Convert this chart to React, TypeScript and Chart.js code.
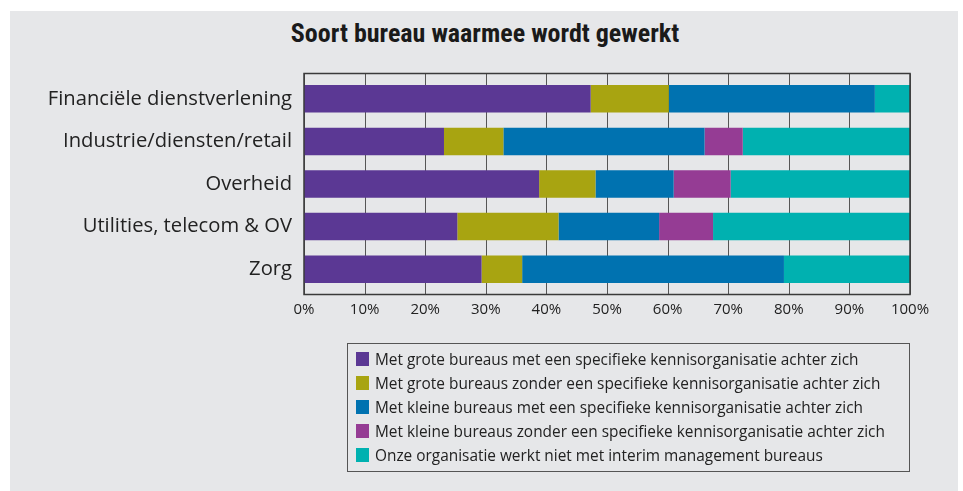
import React, { useEffect, useRef } from "react";
import { Chart, registerables } from "chart.js";

Chart.register(...registerables);

const categories = [
  "Financiële dienstverlening",
  "Industrie/diensten/retail",
  "Overheid",
  "Utilities, telecom & OV",
  "Zorg",
];

const seriesLabels = [
  "Met grote bureaus met een specifieke kennisorganisatie achter zich",
  "Met grote bureaus zonder een specifieke kennisorganisatie achter zich",
  "Met kleine bureaus met een specifieke kennisorganisatie achter zich",
  "Met kleine bureaus zonder een specifieke kennisorganisatie achter zich",
  "Onze organisatie werkt niet met interim management bureaus",
];

const groteMet = [47.3, 23.1, 38.8, 25.3, 29.3];
const groteZonder = [12.9, 9.8, 9.3, 16.7, 6.7];
const kleineMet = [34.0, 33.2, 12.9, 16.6, 43.2];
const kleineZonder = [0, 6.3, 9.4, 8.9, 0];
const nietMet = [5.8, 27.6, 29.6, 32.5, 20.8];

const xTicks = [0, 10, 20, 30, 40, 50, 60, 70, 80, 90, 100];

const colors = ["#5B3894", "#A8A411", "#0072B0", "#953C94", "#00B1B0"];

const FONT = "'Open Sans', Roboto, sans-serif";
const EXT = 4;

export default function App() {
  const ref = useRef<HTMLCanvasElement>(null);

  useEffect(() => {
    if (!ref.current) return;
    const values = [groteMet, groteZonder, kleineMet, kleineZonder, nietMet];
    const frame = {
      id: "frame",
      beforeDatasetsDraw(chart: any) {
        const { ctx, chartArea } = chart;
        const xs = chart.scales.x;
        ctx.save();
        ctx.strokeStyle = "#555";
        ctx.lineWidth = 1;
        xTicks.forEach((v) => {
          const px = Math.round(xs.getPixelForValue(v)) + 0.5;
          ctx.beginPath();
          ctx.moveTo(px, chartArea.top - EXT);
          ctx.lineTo(px, chartArea.bottom + EXT);
          ctx.stroke();
        });
        ctx.restore();
      },
      afterDatasetsDraw(chart: any) {
        const { ctx, chartArea } = chart;
        ctx.save();
        ctx.strokeStyle = "#3a3a3a";
        ctx.lineWidth = 1.5;
        ctx.strokeRect(
          chartArea.left,
          chartArea.top - EXT,
          chartArea.right - chartArea.left,
          chartArea.bottom - chartArea.top + 2 * EXT
        );
        ctx.restore();
      },
    };
    const chart = new Chart(ref.current, {
      type: "bar",
      data: {
        labels: categories,
        datasets: seriesLabels.map((l, i) => ({
          label: l,
          data: values[i],
          backgroundColor: colors[i],
          borderWidth: 0,
          categoryPercentage: 1,
          barPercentage: 0.645,
        })),
      },
      options: {
        indexAxis: "y",
        animation: false,
        responsive: false,
        maintainAspectRatio: false,
        layout: { padding: { top: 77.5, right: 53, left: 0, bottom: 0 } },
        plugins: {
          legend: { display: false },
          title: { display: false },
          tooltip: { enabled: false },
        },
        scales: {
          x: {
            stacked: true,
            min: 0,
            max: 100,
            afterBuildTicks: (scale: any) => {
              scale.ticks = xTicks.map((v) => ({ value: v }));
            },
            afterFit: (scale: any) => {
              scale.height = 491 - 290.5;
            },
            ticks: {
              callback: (v: any) => v + "%",
              color: "#222",
              font: { family: FONT, size: 15 },
              padding: 10,
              maxRotation: 0,
              autoSkip: false,
            },
            grid: { display: false, drawTicks: false },
            border: { display: false },
          },
          y: {
            stacked: true,
            afterFit: (scale: any) => {
              scale.width = 304;
            },
            ticks: {
              color: "#222",
              font: { family: FONT, size: 20.2 },
              padding: 12,
            },
            grid: { display: false, drawTicks: false },
            border: { display: false },
          },
        },
      },
      plugins: [frame],
    } as any);
    return () => chart.destroy();
  }, []);

  return (
    <div style={{ position: "absolute", left: 0, top: 0, width: 963, height: 491, background: "#fff", fontFamily: FONT }}>
      <div style={{ position: "absolute", left: 10, top: 11, width: 948, height: 480, background: "#E6E7E9" }} />
      <div
        style={{
          position: "absolute",
          left: 0,
          width: 970,
          top: 18,
          textAlign: "center",
          fontFamily: "'Liberation Sans Narrow', 'Roboto Condensed', Roboto, sans-serif",
          fontWeight: 700,
          fontSize: 26,
          color: "#1a1a1a",
        }}
      >
        Soort bureau waarmee wordt gewerkt
      </div>
      <canvas ref={ref} width={963} height={491} style={{ position: "absolute", left: 0, top: 0 }} />
      <div
        style={{
          position: "absolute",
          left: 347,
          top: 343,
          width: 561,
          height: 127,
          border: "1.5px solid #555",
          boxSizing: "content-box",
        }}
      >
        {seriesLabels.map((l, i) => (
          <div
            key={l}
            style={{
              position: "absolute",
              left: 8,
              top: 5 + i * 24,
              height: 20,
              display: "flex",
              alignItems: "center",
              fontSize: 15.4,
              color: "#222",
              whiteSpace: "nowrap",
            }}
          >
            <span style={{ display: "inline-block", width: 13, height: 14, background: colors[i], marginRight: 6 }} />
            {l}
          </div>
        ))}
      </div>
    </div>
  );
}
